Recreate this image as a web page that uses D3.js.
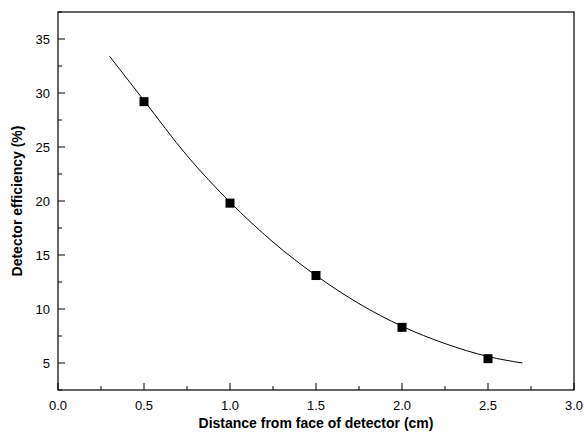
<!DOCTYPE html>
<html><head><meta charset="utf-8">
<script src="https://cdn.jsdelivr.net/npm/d3@7"></script>
<style>body{margin:0;background:#fff}text{font-family:Arial,"Liberation Sans",sans-serif}</style>
</head><body><svg id="c" width="584" height="437"></svg>
<script>
const distX = [0.5, 1.0, 1.5, 2.0, 2.5]
const effY = [29.2, 19.8, 13.1, 8.3, 5.4]
const fitX = [0.3, 0.5, 0.75, 1.0, 1.25, 1.5, 1.75, 2.0, 2.25, 2.5, 2.7]
const fitY = [33.4, 29.3, 24.2, 19.9, 16.2, 13.1, 10.5, 8.4, 6.8, 5.6, 5.0]
const xTicks = [0, 0.5, 1.0, 1.5, 2.0, 2.5, 3.0]
const yTicks = [5, 10, 15, 20, 25, 30, 35]

const svg = d3.select('#c')
const L = 58, R = 574, T = 12, B = 390
const x = d3.scaleLinear().domain([0, 3]).range([L, R])
const y = d3.scaleLinear().domain([5, 35]).range([363, 39])

svg.append('rect').attr('x', L).attr('y', T).attr('width', R - L).attr('height', B - T)
  .attr('fill', 'none').attr('stroke', '#000').attr('stroke-width', 1.2)

const g = svg.append('g')
d3.range(0, 3.01, 0.25).forEach(v => {
  const major = Math.abs(v * 2 - Math.round(v * 2)) < 1e-6
  g.append('line').attr('x1', x(v)).attr('x2', x(v)).attr('y1', B).attr('y2', B - (major ? 7 : 4)).attr('stroke', '#000')
})
d3.range(2.5, 37.6, 2.5).forEach(v => {
  if (y(v) < T || y(v) > B) return
  const major = v % 5 === 0
  g.append('line').attr('x1', L).attr('x2', L + (major ? 7 : 4)).attr('y1', y(v)).attr('y2', y(v)).attr('stroke', '#000')
})
g.selectAll('.xl').data(xTicks).enter().append('text')
  .attr('x', d => x(d)).attr('y', B + 20).attr('text-anchor', 'middle').attr('font-size', 13).text(d => d.toFixed(1))
g.selectAll('.yl').data(yTicks).enter().append('text')
  .attr('x', L - 8).attr('y', d => y(d) + 5).attr('text-anchor', 'end').attr('font-size', 13).text(d => d)

svg.append('text').attr('x', (L + R) / 2).attr('y', 428).attr('text-anchor', 'middle')
  .attr('font-size', 14).attr('font-weight', 'bold').text('Distance from face of detector (cm)')
svg.append('text').attr('transform', `translate(22,${(T + B) / 2}) rotate(-90)`).attr('text-anchor', 'middle')
  .attr('font-size', 14).attr('font-weight', 'bold').text('Detector efficiency (%)')

svg.append('path').datum(fitX.map((d, i) => [d, fitY[i]]))
  .attr('d', d3.line().x(d => x(d[0])).y(d => y(d[1])).curve(d3.curveMonotoneX))
  .attr('fill', 'none').attr('stroke', '#000').attr('stroke-width', 1)

svg.selectAll('.pt').data(distX).enter().append('rect')
  .attr('x', d => x(d) - 4.5).attr('y', (d, i) => y(effY[i]) - 4.5).attr('width', 9).attr('height', 9).attr('fill', '#000')
</script></body></html>
